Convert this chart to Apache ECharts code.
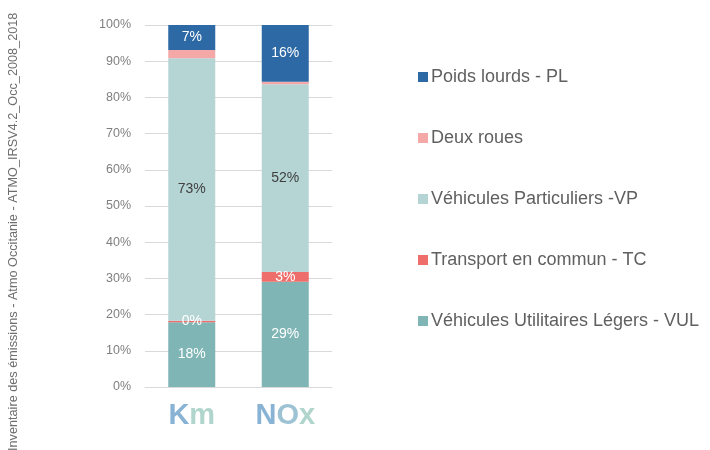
<!DOCTYPE html>
<html>
<head>
<meta charset="utf-8">
<script src="https://cdn.jsdelivr.net/npm/echarts@6/dist/echarts.min.js"></script>
<style>
  html, body { margin: 0; padding: 0; background: #fff; }
  #chart { width: 710px; height: 450px; }
</style>
</head>
<body>
<div id="chart"></div>
<script>
// catégories (axe x)
const categories = ['Km', 'NOx'];
// parts en % par type de véhicule
const vul = [17.9, 29.1];
const tc = [0.4, 2.7];
const vp = [72.5, 51.8];
const deuxRoues = [2.3, 0.7];
const pl = [6.9, 15.7];
// graduations de l'axe y
const yTicks = [0, 10, 20, 30, 40, 50, 60, 70, 80, 90, 100];

const names = {
  vul: 'Véhicules Utilitaires Légers - VUL',
  tc: 'Transport en commun - TC',
  vp: 'Véhicules Particuliers -VP',
  dr: 'Deux roues',
  pl: 'Poids lourds - PL'
};

const myChart = echarts.init(document.getElementById('chart'));

// étiquette de valeur sur les barres
function label(color, show) {
  return {
    show: show,
    position: 'inside',
    color: color,
    fontSize: 14,
    fontFamily: 'Liberation Sans, Arial, sans-serif',
    formatter: p => Math.round(p.value) + '%'
  };
}

function serie(name, data, color, lbl) {
  return {
    name: name,
    type: 'bar',
    stack: 'total',
    barWidth: 47,
    data: data,
    itemStyle: { color: color },
    label: lbl
  };
}

myChart.setOption({
  animation: false,
  textStyle: { fontFamily: 'Liberation Sans, Arial, sans-serif' },
  grid: { left: 145, right: 378, top: 25, bottom: 63 },
  legend: {
    orient: 'vertical',
    left: 413,
    top: 63,
    itemWidth: 10,
    itemHeight: 10,
    itemGap: 43,
    icon: 'rect',
    data: [names.pl, names.dr, names.vp, names.tc, names.vul],
    textStyle: { fontSize: 18, color: '#606060', padding: [0, 0, 0, -2] }
  },
  graphic: [{
    type: 'text',
    x: 13,
    y: 451,
    rotation: Math.PI / 2,
    style: {
      text: 'Inventaire des émissions - Atmo Occitanie - ATMO_IRSV4.2_Occ_2008_2018',
      fill: '#6e6e6e',
      fontSize: 12.7,
      fontFamily: 'Liberation Sans, Arial, sans-serif',
      textAlign: 'left',
      textVerticalAlign: 'middle'
    }
  }],
  xAxis: {
    type: 'category',
    data: categories,
    axisLine: { lineStyle: { color: '#d9d9d9', width: 1 } },
    axisTick: { show: false },
    axisLabel: {
      interval: 0,
      margin: 14,
      formatter: v => v === 'Km' ? '{a|K}{b|m}' : '{a|N}{c|O}{b|x}',
      rich: {
        a: { fontSize: 29, fontWeight: 'bold', color: '#88b3d5' },
        b: { fontSize: 29, fontWeight: 'bold', color: '#b0d5cc' },
        c: { fontSize: 29, fontWeight: 'bold', color: '#9cc2d3' }
      }
    }
  },
  yAxis: {
    type: 'value',
    min: yTicks[0],
    max: yTicks[yTicks.length - 1],
    interval: 10,
    axisLine: { show: false },
    axisTick: { show: false },
    splitLine: { lineStyle: { color: '#d9d9d9' } },
    axisLabel: {
      margin: 14,
      color: '#7f7f7f',
      fontSize: 12.5,
      formatter: v => v + '%'
    }
  },
  series: [
    serie(names.vul, vul, '#80b5b5', label('#ffffff', true)),
    serie(names.tc, tc, '#ee6e6b', label('#ffffff', true)),
    serie(names.vp, vp, '#b5d5d4', label('#404040', true)),
    serie(names.dr, deuxRoues, '#f4a8a8', label('#ffffff', false)),
    serie(names.pl, pl, '#2c69a5', label('#ffffff', true))
  ]
});
</script>
</body>
</html>
